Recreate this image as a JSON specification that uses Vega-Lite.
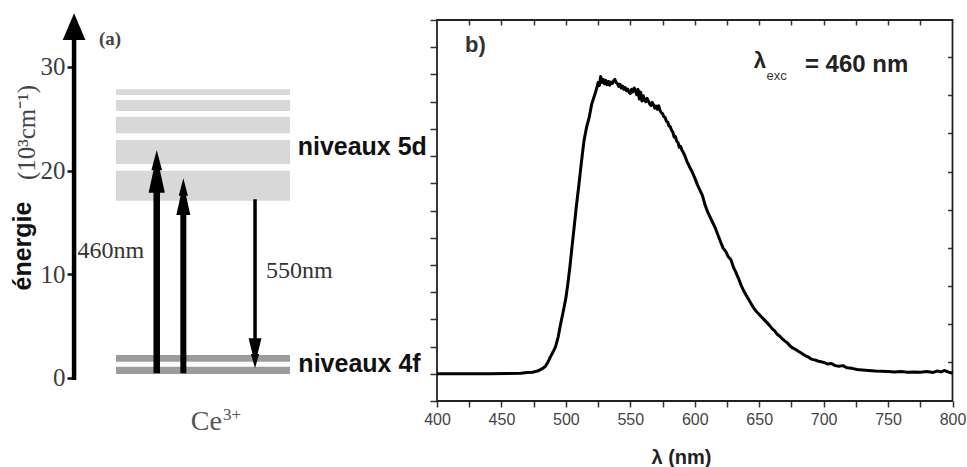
{
  "$schema": "https://vega.github.io/schema/vega-lite/v6.json",
  "width": 967,
  "height": 467,
  "padding": 0,
  "autosize": {"type": "none"},
  "background": "white",
  "config": {"view": {"stroke": null}},
  "datasets": {
    "spectrum": [
      {"wl": 400, "intensity": 0.0}, {"wl": 420, "intensity": 0.0}, {"wl": 440, "intensity": 0.0}, {"wl": 455, "intensity": 0.01},
      {"wl": 465, "intensity": 0.02}, {"wl": 470, "intensity": 0.05}, {"wl": 474, "intensity": 0.06}, {"wl": 478, "intensity": 0.1},
      {"wl": 481, "intensity": 0.17}, {"wl": 484, "intensity": 0.27}, {"wl": 486, "intensity": 0.42}, {"wl": 488, "intensity": 0.62},
      {"wl": 490, "intensity": 0.8}, {"wl": 492, "intensity": 1.0}, {"wl": 494, "intensity": 1.35}, {"wl": 496, "intensity": 1.85},
      {"wl": 498, "intensity": 2.3}, {"wl": 500, "intensity": 2.78}, {"wl": 501.5, "intensity": 3.3}, {"wl": 503, "intensity": 3.88},
      {"wl": 504.5, "intensity": 4.55}, {"wl": 506, "intensity": 5.2}, {"wl": 508, "intensity": 6.1}, {"wl": 510, "intensity": 6.9},
      {"wl": 512, "intensity": 7.75}, {"wl": 514, "intensity": 8.55}, {"wl": 516, "intensity": 9.05}, {"wl": 518, "intensity": 9.4},
      {"wl": 520, "intensity": 9.9}, {"wl": 522, "intensity": 10.2}, {"wl": 524, "intensity": 10.5}, {"wl": 525, "intensity": 10.7},
      {"wl": 526, "intensity": 10.6}, {"wl": 527, "intensity": 10.92}, {"wl": 528, "intensity": 10.7}, {"wl": 529, "intensity": 10.82},
      {"wl": 530, "intensity": 10.65}, {"wl": 531, "intensity": 10.78}, {"wl": 532, "intensity": 10.62}, {"wl": 533, "intensity": 10.74}, {"wl": 534, "intensity": 10.6}, {"wl": 535, "intensity": 10.72}, {"wl": 536, "intensity": 10.66},
      {"wl": 537, "intensity": 10.76}, {"wl": 538, "intensity": 10.82}, {"wl": 539, "intensity": 10.7}, {"wl": 540, "intensity": 10.66}, {"wl": 541, "intensity": 10.56}, {"wl": 542, "intensity": 10.64}, {"wl": 543, "intensity": 10.5}, {"wl": 544, "intensity": 10.57},
      {"wl": 545, "intensity": 10.45}, {"wl": 546, "intensity": 10.52}, {"wl": 547, "intensity": 10.4}, {"wl": 548, "intensity": 10.46}, {"wl": 549, "intensity": 10.35}, {"wl": 550, "intensity": 10.3}, {"wl": 551, "intensity": 10.45},
      {"wl": 552, "intensity": 10.36}, {"wl": 553, "intensity": 10.5}, {"wl": 554, "intensity": 10.42}, {"wl": 555, "intensity": 10.25}, {"wl": 556, "intensity": 10.45},
      {"wl": 557, "intensity": 10.1}, {"wl": 558, "intensity": 10.35}, {"wl": 559, "intensity": 10.02}, {"wl": 560, "intensity": 10.22}, {"wl": 561, "intensity": 10.05},
      {"wl": 562, "intensity": 10.0}, {"wl": 563, "intensity": 10.12}, {"wl": 564, "intensity": 10.02}, {"wl": 565, "intensity": 9.92}, {"wl": 566, "intensity": 9.86}, {"wl": 567, "intensity": 9.97}, {"wl": 568, "intensity": 9.88},
      {"wl": 569, "intensity": 9.76}, {"wl": 570, "intensity": 9.84}, {"wl": 571, "intensity": 9.72}, {"wl": 572, "intensity": 9.85}, {"wl": 573, "intensity": 9.68}, {"wl": 574, "intensity": 9.6}, {"wl": 575, "intensity": 9.56}, {"wl": 576, "intensity": 9.45},
      {"wl": 577, "intensity": 9.42}, {"wl": 578, "intensity": 9.28}, {"wl": 579, "intensity": 9.25}, {"wl": 580, "intensity": 9.1}, {"wl": 581, "intensity": 9.08}, {"wl": 582, "intensity": 8.95}, {"wl": 583, "intensity": 8.88}, {"wl": 584, "intensity": 8.7},
      {"wl": 585, "intensity": 8.72}, {"wl": 586, "intensity": 8.55}, {"wl": 587, "intensity": 8.5}, {"wl": 588, "intensity": 8.32}, {"wl": 589, "intensity": 8.36}, {"wl": 590, "intensity": 8.22}, {"wl": 591, "intensity": 8.14}, {"wl": 592, "intensity": 8.05},
      {"wl": 594, "intensity": 7.8}, {"wl": 596, "intensity": 7.6}, {"wl": 598, "intensity": 7.42}, {"wl": 600, "intensity": 7.2},
      {"wl": 602, "intensity": 6.95}, {"wl": 604, "intensity": 6.75}, {"wl": 606, "intensity": 6.55}, {"wl": 608, "intensity": 6.2},
      {"wl": 610, "intensity": 5.95}, {"wl": 612, "intensity": 5.75}, {"wl": 614, "intensity": 5.55}, {"wl": 616, "intensity": 5.35},
      {"wl": 618, "intensity": 5.1}, {"wl": 620, "intensity": 4.85}, {"wl": 622, "intensity": 4.62}, {"wl": 624, "intensity": 4.5},
      {"wl": 626, "intensity": 4.3}, {"wl": 628, "intensity": 4.2}, {"wl": 630, "intensity": 3.92}, {"wl": 632, "intensity": 3.72},
      {"wl": 634, "intensity": 3.5}, {"wl": 636, "intensity": 3.25}, {"wl": 638, "intensity": 3.05}, {"wl": 640, "intensity": 2.88},
      {"wl": 642, "intensity": 2.72}, {"wl": 644, "intensity": 2.55}, {"wl": 646, "intensity": 2.4}, {"wl": 648, "intensity": 2.28},
      {"wl": 650, "intensity": 2.18}, {"wl": 652, "intensity": 2.08}, {"wl": 654, "intensity": 1.98}, {"wl": 656, "intensity": 1.88},
      {"wl": 658, "intensity": 1.78}, {"wl": 660, "intensity": 1.66}, {"wl": 662, "intensity": 1.58}, {"wl": 664, "intensity": 1.45},
      {"wl": 666, "intensity": 1.38}, {"wl": 668, "intensity": 1.28}, {"wl": 670, "intensity": 1.2}, {"wl": 672, "intensity": 1.13},
      {"wl": 674, "intensity": 1.02}, {"wl": 676, "intensity": 0.95}, {"wl": 678, "intensity": 0.9}, {"wl": 680, "intensity": 0.84},
      {"wl": 682, "intensity": 0.78}, {"wl": 684, "intensity": 0.72}, {"wl": 686, "intensity": 0.66}, {"wl": 688, "intensity": 0.62},
      {"wl": 690, "intensity": 0.55}, {"wl": 692, "intensity": 0.52}, {"wl": 694, "intensity": 0.5}, {"wl": 696, "intensity": 0.46},
      {"wl": 698, "intensity": 0.44}, {"wl": 700, "intensity": 0.42}, {"wl": 703, "intensity": 0.36}, {"wl": 706, "intensity": 0.38},
      {"wl": 709, "intensity": 0.3}, {"wl": 712, "intensity": 0.28}, {"wl": 715, "intensity": 0.3}, {"wl": 718, "intensity": 0.22},
      {"wl": 722, "intensity": 0.2}, {"wl": 726, "intensity": 0.16}, {"wl": 730, "intensity": 0.14}, {"wl": 735, "intensity": 0.12},
      {"wl": 740, "intensity": 0.1}, {"wl": 745, "intensity": 0.09}, {"wl": 750, "intensity": 0.08}, {"wl": 755, "intensity": 0.07},
      {"wl": 760, "intensity": 0.08}, {"wl": 765, "intensity": 0.06}, {"wl": 770, "intensity": 0.07}, {"wl": 775, "intensity": 0.06},
      {"wl": 780, "intensity": 0.08}, {"wl": 785, "intensity": 0.05}, {"wl": 788, "intensity": 0.1}, {"wl": 791, "intensity": 0.07},
      {"wl": 794, "intensity": 0.12}, {"wl": 797, "intensity": 0.06}, {"wl": 800, "intensity": 0.02}
    ]
  },
  "layer": [
    {
      "encoding": {
        "x": {"field": "pos", "type": "quantitative", "scale": {"domain": [-6.667, 48.908], "nice": false, "zero": false}, "axis": null},
        "y": {"field": "energy", "type": "quantitative", "scale": {"domain": [-8.585, 36.462], "nice": false, "zero": false},
          "axis": {"orient": "left", "offset": -74, "values": [0, 10, 20, 30], "domain": false, "grid": false, "tickSize": 7, "tickWidth": 2.5, "tickColor": "#111",
            "labelFont": "Liberation Serif", "labelFontSize": 25, "labelColor": "#3c3c3c", "labelPadding": 2, "title": null}}
      },
      "layer": [
        {
          "data": {"values": [
            {"level": "5d", "pos": 0, "pos2": 10, "energy": 27.30, "energy2": 27.85},
            {"level": "5d", "pos": 0, "pos2": 10, "energy": 25.75, "energy2": 26.81},
            {"level": "5d", "pos": 0, "pos2": 10, "energy": 23.60, "energy2": 25.20},
            {"level": "5d", "pos": 0, "pos2": 10, "energy": 20.64, "energy2": 22.96},
            {"level": "5d", "pos": 0, "pos2": 10, "energy": 17.10, "energy2": 20.00}
          ]},
          "mark": {"type": "rect", "color": "#d8d8d8"},
          "encoding": {"x2": {"field": "pos2"}, "y2": {"field": "energy2"}}
        },
        {
          "data": {"values": [
            {"level": "4f", "pos": 0, "pos2": 10, "energy": 1.57, "energy2": 2.22},
            {"level": "4f", "pos": 0, "pos2": 10, "energy": 0.39, "energy2": 1.09}
          ]},
          "mark": {"type": "rect", "color": "#9c9c9c"},
          "encoding": {"x2": {"field": "pos2"}, "y2": {"field": "energy2"}}
        },
        {
          "data": {"values": [{"pos": -2.41, "energy": -0.2, "energy2": 33.5}]},
          "mark": {"type": "rule", "color": "#000", "strokeWidth": 4.5},
          "encoding": {"y2": {"field": "energy2"}}
        },
        {
          "data": {"values": [{"pos": -2.41, "energy": 33.89}]},
          "mark": {"type": "point", "shape": "M0,-1 L0.85,1 L-0.85,1 Z", "size": 713, "filled": true, "color": "#000", "opacity": 1, "strokeWidth": 0}
        },
        {
          "data": {"values": [{"transition": "460nm a", "pos": 2.34, "energy": 0.45, "energy2": 18.5}]},
          "mark": {"type": "rule", "color": "#000", "strokeWidth": 6.5},
          "encoding": {"y2": {"field": "energy2"}}
        },
        {
          "data": {"values": [{"transition": "460nm b", "pos": 3.87, "energy": 0.45, "energy2": 16.3}]},
          "mark": {"type": "rule", "color": "#000", "strokeWidth": 6},
          "encoding": {"y2": {"field": "energy2"}}
        },
        {
          "data": {"values": [{"transition": "550nm", "pos": 7.99, "energy": 3.6, "energy2": 17.24}]},
          "mark": {"type": "rule", "color": "#000", "strokeWidth": 3.5},
          "encoding": {"y2": {"field": "energy2"}}
        },
        {
          "data": {"values": [{"pos": 2.34, "energy": 19.94}]},
          "mark": {"type": "point", "shape": "M0,-1 L0.25,-0.05 L0.15,-0.05 L0.38,1 L-0.38,1 L-0.15,-0.05 L-0.25,-0.05 Z", "size": 1823, "filled": true, "color": "#000", "opacity": 1, "strokeWidth": 0}
        },
        {
          "data": {"values": [{"pos": 3.87, "energy": 17.49}]},
          "mark": {"type": "point", "shape": "M0,-1 L0.25,-0.05 L0.15,-0.05 L0.38,1 L-0.38,1 L-0.15,-0.05 L-0.25,-0.05 Z", "size": 1347, "filled": true, "color": "#000", "opacity": 1, "strokeWidth": 0}
        },
        {
          "data": {"values": [{"pos": 7.99, "energy": 2.38}]},
          "mark": {"type": "point", "shape": "M0,1 L0.27,0.05 L0.17,0.05 L0.43,-1 L-0.43,-1 L-0.17,0.05 L-0.27,0.05 Z", "size": 900, "filled": true, "color": "#000", "opacity": 1, "strokeWidth": 0}
        },
        {
          "data": {"values": [{"label": "(a)", "pos": -0.98, "energy": 32.1}]},
          "mark": {"type": "text", "align": "left", "baseline": "alphabetic", "font": "Liberation Serif", "fontSize": 19, "fontWeight": "bold", "color": "#444"},
          "encoding": {"text": {"field": "label"}}
        },
        {
          "data": {"values": [{"label": "460nm", "pos": -0.30, "energy": 11.57}, {"label": "550nm", "pos": 10.53, "energy": 9.65}]},
          "mark": {"type": "text", "align": "center", "baseline": "alphabetic", "font": "Liberation Serif", "fontSize": 24, "color": "#333"},
          "encoding": {"text": {"field": "label"}}
        },
        {
          "data": {"values": [{"label": "niveaux 5d", "pos": 10.44, "energy": 21.51}, {"label": "niveaux 4f", "pos": 10.48, "energy": 0.61}]},
          "mark": {"type": "text", "align": "left", "baseline": "alphabetic", "font": "Liberation Sans", "fontSize": 25, "fontWeight": "bold", "color": "#111"},
          "encoding": {"text": {"field": "label"}}
        },
        {
          "data": {"values": [{"label": "Ce", "pos": 6.09, "energy": -5.02}]},
          "mark": {"type": "text", "align": "right", "baseline": "alphabetic", "font": "Liberation Serif", "fontSize": 28, "color": "#555"},
          "encoding": {"text": {"field": "label"}}
        },
        {
          "data": {"values": [{"label": "3+", "pos": 6.15, "energy": -4.05}]},
          "mark": {"type": "text", "align": "left", "baseline": "alphabetic", "font": "Liberation Serif", "fontSize": 17, "color": "#555"},
          "encoding": {"text": {"field": "label"}}
        },
        {
          "data": {"values": [{"label": "énergie", "pos": -5.37, "energy": 12.73}]},
          "mark": {"type": "text", "align": "center", "baseline": "middle", "angle": 270, "font": "Liberation Sans", "fontSize": 25, "fontWeight": "bold", "color": "#111"},
          "encoding": {"text": {"field": "label"}}
        },
        {
          "data": {"values": [{"label": "(10³cm⁻¹)", "pos": -5.11, "energy": 23.68}]},
          "mark": {"type": "text", "align": "center", "baseline": "middle", "angle": 270, "font": "Liberation Serif", "fontSize": 25, "color": "#444"},
          "encoding": {"text": {"field": "label"}}
        }
      ]
    },
    {
      "resolve": {"axis": {"x": "independent", "y": "independent"}},
      "layer": [
        {
          "data": {"values": [{"wl": 400, "wl2": 800, "intensity": -1, "intensity2": 13}]},
          "mark": {"type": "rect", "fillOpacity": 0, "stroke": "#222", "strokeWidth": 1.8},
          "encoding": {
            "x": {"field": "wl", "type": "quantitative", "scale": {"domain": [60.91, 811.25], "nice": false, "zero": false},
              "axis": {"orient": "top", "offset": -20, "values": [425, 450, 475, 500, 525, 550, 575, 600, 625, 650, 675, 700, 725, 750, 775], "labels": false, "domain": false, "grid": false, "tickSize": -5, "tickWidth": 1.5, "tickColor": "#333", "title": null}},
            "x2": {"field": "wl2"},
            "y": {"field": "intensity", "type": "quantitative", "scale": {"domain": [-3.425, 13.735], "nice": false, "zero": false},
              "axis": {"orient": "right", "offset": -14.5, "values": [0.43, 1.83, 3.23, 4.63, 6.03, 7.43, 8.83, 10.23, 11.63], "labels": false, "domain": false, "grid": false, "tickSize": -5, "tickWidth": 1.5, "tickColor": "#333", "title": null}},
            "y2": {"field": "intensity2"}
          }
        },
        {
          "data": {"name": "spectrum"},
          "mark": {"type": "line", "color": "#000", "strokeWidth": 3, "strokeJoin": "round"},
          "encoding": {
            "x": {"field": "wl", "type": "quantitative", "scale": {"domain": [60.91, 811.25], "nice": false, "zero": false},
              "axis": {"orient": "bottom", "offset": -66, "values": [400, 425, 450, 475, 500, 525, 550, 575, 600, 625, 650, 675, 700, 725, 750, 775, 800],
                "labelExpr": "datum.value % 50 === 0 ? datum.label : ''", "domain": false, "grid": false, "tickSize": 6, "tickWidth": 1.5, "tickColor": "#333",
                "labelFont": "Liberation Sans", "labelFontSize": 16, "labelColor": "#444", "labelPadding": 4, "labelOverlap": false, "labelFlush": false,
                "title": "λ (nm)", "titleFont": "Liberation Sans", "titleFontSize": 20, "titleFontWeight": "bold", "titleColor": "#222", "titleX": 681, "titleY": 56, "titleBaseline": "middle"}},
            "y": {"field": "intensity", "type": "quantitative", "scale": {"domain": [-3.425, 13.735], "nice": false, "zero": false},
              "axis": {"orient": "left", "offset": -437, "values": [-1, 0, 1, 2, 3, 4, 5, 6, 7, 8, 9, 10, 11, 12, 13], "labels": false, "domain": false, "grid": false, "tickSize": 7, "tickWidth": 1.5, "tickColor": "#333", "title": null}}
          }
        },
        {
          "data": {"values": [{"label": "b)", "wl": 421.7, "intensity": 11.83}]},
          "mark": {"type": "text", "align": "left", "baseline": "alphabetic", "font": "Liberation Sans", "fontSize": 22, "fontWeight": "bold", "color": "#333"},
          "encoding": {
            "x": {"field": "wl", "type": "quantitative", "scale": {"domain": [60.91, 811.25], "nice": false, "zero": false}, "axis": null},
            "y": {"field": "intensity", "type": "quantitative", "scale": {"domain": [-3.425, 13.735], "nice": false, "zero": false}, "axis": null},
            "text": {"field": "label"}
          }
        },
        {
          "data": {"values": [{"label": "λ", "wl": 650.6, "intensity": 11.24}]},
          "mark": {"type": "text", "align": "center", "baseline": "alphabetic", "font": "Liberation Sans", "fontSize": 22, "fontWeight": "bold", "color": "#222"},
          "encoding": {
            "x": {"field": "wl", "type": "quantitative", "scale": {"domain": [60.91, 811.25], "nice": false, "zero": false}, "axis": null},
            "y": {"field": "intensity", "type": "quantitative", "scale": {"domain": [-3.425, 13.735], "nice": false, "zero": false}, "axis": null},
            "text": {"field": "label"}
          }
        },
        {
          "data": {"values": [{"label": "exc", "wl": 663.5, "intensity": 10.8}]},
          "mark": {"type": "text", "align": "center", "baseline": "alphabetic", "font": "Liberation Sans", "fontSize": 13, "color": "#333"},
          "encoding": {
            "x": {"field": "wl", "type": "quantitative", "scale": {"domain": [60.91, 811.25], "nice": false, "zero": false}, "axis": null},
            "y": {"field": "intensity", "type": "quantitative", "scale": {"domain": [-3.425, 13.735], "nice": false, "zero": false}, "axis": null},
            "text": {"field": "label"}
          }
        },
        {
          "data": {"values": [{"label": "= 460 nm", "wl": 685.5, "intensity": 11.09}]},
          "mark": {"type": "text", "align": "left", "baseline": "alphabetic", "font": "Liberation Sans", "fontSize": 24, "fontWeight": "bold", "color": "#222"},
          "encoding": {
            "x": {"field": "wl", "type": "quantitative", "scale": {"domain": [60.91, 811.25], "nice": false, "zero": false}, "axis": null},
            "y": {"field": "intensity", "type": "quantitative", "scale": {"domain": [-3.425, 13.735], "nice": false, "zero": false}, "axis": null},
            "text": {"field": "label"}
          }
        }
      ]
    }
  ],
  "resolve": {"scale": {"x": "independent", "y": "independent"}}
}
